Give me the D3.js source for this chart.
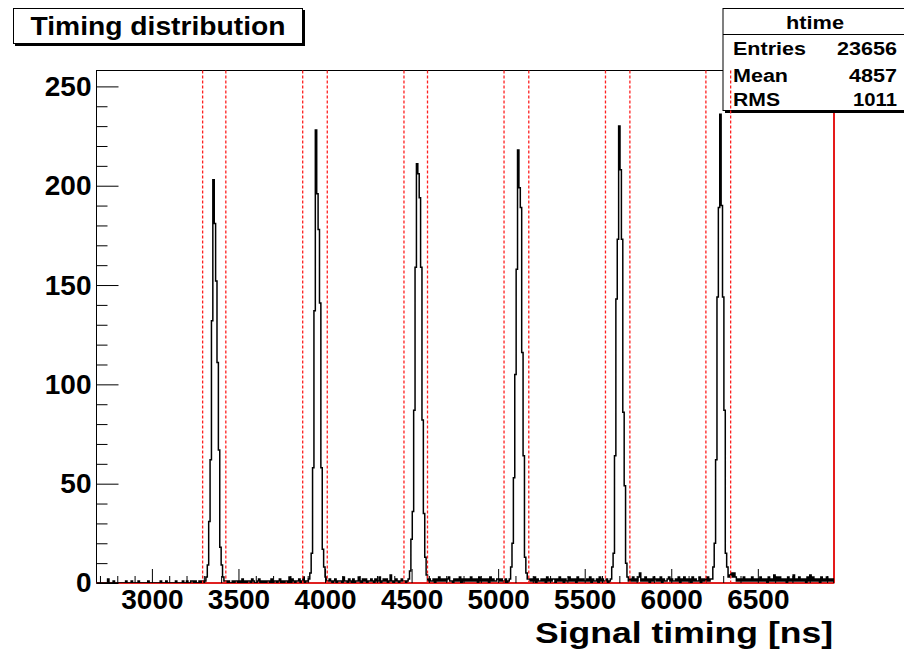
<!DOCTYPE html>
<html><head><meta charset="utf-8">
<script src="https://cdn.jsdelivr.net/npm/d3@7"></script>
<style>
body{margin:0;background:#fff;}
svg{display:block;font-family:"Liberation Sans",Arial,Helvetica,sans-serif;font-weight:bold;}
</style>
</head><body><svg id="c" width="904" height="649"></svg>
<script>
// ---------------- data ----------------
const binStart = 2680, binWidth = 8;
const xDomain = [2680, 6940];
const yDomain = [0, 258];
// background counts per bin (one digit = one bin), segments between the peaks
const noiseSegments = [
  "000000002000100000000100010000100000010000000010001000000100001001001101001010",
  "101001011010201011021001201010110201101201011030210112013011",
  "1210120111031102102011310212011210211301212014101210121101",
  "2112021312121231102121302121213121203121212031211221210201",
  "21213021121203121220213120211312120312121121302112031211201",
  "21312135121312021321213021123121121302131212031211302121312",
  "4535312121312121312121312120312141313121203121412131212031413121203121312121"
];
// peak bin counts (6 timing peaks)
const peaks = [
  [1, 3, 9, 31, 62, 132, 203, 181, 152, 111, 67, 18, 9, 3, 1],
  [2, 5, 15, 58, 137, 228, 196, 178, 141, 58, 17, 8, 3, 1],
  [2, 6, 22, 36, 87, 159, 211, 206, 194, 159, 82, 35, 13, 4, 1],
  [2, 8, 20, 53, 105, 158, 218, 199, 189, 116, 64, 13, 5, 2],
  [2, 8, 15, 64, 143, 173, 230, 208, 173, 86, 49, 10, 3, 1],
  [2, 8, 20, 62, 144, 189, 236, 190, 144, 87, 15, 8, 3]
];
const cutLines = [3293, 3427, 3871, 4013, 4456, 4592, 5034, 5177, 5620, 5761, 6200, 6343];
const xTicks = [3000, 3500, 4000, 4500, 5000, 5500, 6000, 6500];
const xMinorTicks = [2700,2800,2900,3100,3200,3300,3400,3600,3700,3800,3900,4100,4200,4300,4400,4600,4700,4800,4900,5100,5200,5300,5400,5600,5700,5800,5900,6100,6200,6300,6400,6600,6700,6800,6900];
const yTicks = [0, 50, 100, 150, 200, 250];
const yMinorTicks = [10,20,30,40,60,70,80,90,110,120,130,140,160,170,180,190,210,220,230,240];
const titleText = "Timing distribution";
const histName = "htime";
const statsLabels = ["Entries", "Mean", "RMS"];
const statsValues = ["23656", "4857", "1011"];
const xTitle = "Signal timing [ns]";

// ---------------- build bins ----------------
const counts = [];
noiseSegments.forEach((s, i) => {
  for (const ch of s) counts.push(+ch);
  if (i < peaks.length) peaks[i].forEach(v => counts.push(v));
});

// ---------------- layout ----------------
const svg = d3.select("#c");
const L = 96.5, R = 834, T = 70.5, B = 583;
const x = d3.scaleLinear().domain(xDomain).range([L, R]);
const y = d3.scaleLinear().domain(yDomain).range([B, T]);

svg.append("defs").append("clipPath").attr("id", "clip")
  .append("rect").attr("x", L).attr("y", T).attr("width", R - L).attr("height", B - T);

// frame
svg.append("rect").attr("x", L).attr("y", T).attr("width", R - L).attr("height", B - T)
  .attr("fill", "none").attr("stroke", "#000").attr("stroke-width", 1);

// red baseline & right edge
svg.append("line").attr("x1", L).attr("x2", R).attr("y1", y(0)).attr("y2", y(0))
  .attr("stroke", "#ff0000").attr("stroke-width", 1.6);
svg.append("line").attr("x1", R).attr("x2", R).attr("y1", T).attr("y2", B)
  .attr("stroke", "#ff0000").attr("stroke-width", 1.6);

// histogram step line
let d = `M${x(binStart)},${y(0)}`;
counts.forEach((c, i) => {
  const e1 = binStart + (i + 1) * binWidth;
  d += `V${y(c)}H${x(Math.min(e1, xDomain[1]))}`;
});
d += `V${y(0)}`;
svg.append("path").attr("d", d).attr("fill", "none").attr("stroke", "#000")
  .attr("stroke-width", 1.5).attr("stroke-linejoin", "miter").attr("clip-path", "url(#clip)");

// axes
const gx = svg.append("g").attr("transform", `translate(0,${B})`)
  .call(d3.axisBottom(x).tickValues(xTicks).tickSize(-14).tickPadding(6.5).tickFormat(d3.format("d")));
const gxm = svg.append("g").attr("transform", `translate(0,${B})`)
  .call(d3.axisBottom(x).tickValues(xMinorTicks).tickSize(-7).tickFormat(""));
const gy = svg.append("g").attr("transform", `translate(${L},0)`)
  .call(d3.axisLeft(y).tickValues(yTicks).tickSize(-22).tickPadding(5).tickFormat(d3.format("d")));
const gym = svg.append("g").attr("transform", `translate(${L},0)`)
  .call(d3.axisLeft(y).tickValues(yMinorTicks).tickSize(-11).tickFormat(""));
[gxm, gym].forEach(g => g.selectAll("text").remove());
[gx, gxm, gy, gym].forEach(g => {
  g.select(".domain").remove();
  g.selectAll("line").attr("stroke", "#000").attr("stroke-width", 1);
  g.selectAll("text").attr("fill", "#000").style("font-size", "28px")
    .style("font-family", '"Liberation Sans",Arial,sans-serif').style("font-weight", "bold");
});

// axis title
svg.append("text").attr("x", 833).attr("y", 642.5).attr("text-anchor", "end")
  .attr("textLength", 298).attr("lengthAdjust", "spacingAndGlyphs")
  .style("font-size", "29.5px").text(xTitle);

// stats box
const sb = svg.append("g");
sb.append("rect").attr("x", 725).attr("y", 10).attr("width", 184).attr("height", 103).attr("fill", "#000");
sb.append("rect").attr("x", 723).attr("y", 8.5).attr("width", 184).attr("height", 102)
  .attr("fill", "#fff").attr("stroke", "#000").attr("stroke-width", 1);
sb.append("line").attr("x1", 723).attr("x2", 907).attr("y1", 34.5).attr("y2", 34.5)
  .attr("stroke", "#000").attr("stroke-width", 1);
sb.append("text").attr("x", 815).attr("y", 29).attr("text-anchor", "middle")
  .attr("textLength", 58).attr("lengthAdjust", "spacingAndGlyphs")
  .style("font-size", "19px").text(histName);
const rowY = [55, 81.5, 106];
const labLen = [73, 55, 47];
const valLen = [60, 48, 44];
statsLabels.forEach((t, i) => {
  sb.append("text").attr("x", 733).attr("y", rowY[i])
    .attr("textLength", labLen[i]).attr("lengthAdjust", "spacingAndGlyphs")
    .style("font-size", "18px").text(t);
  sb.append("text").attr("x", 897).attr("y", rowY[i]).attr("text-anchor", "end")
    .attr("textLength", valLen[i]).attr("lengthAdjust", "spacingAndGlyphs")
    .style("font-size", "18px").text(statsValues[i]);
});

// red dashed cut lines
svg.selectAll(".cut").data(cutLines).enter().append("line").attr("class", "cut")
  .attr("x1", v => x(v)).attr("x2", v => x(v))
  .attr("y1", T).attr("y2", B)
  .attr("stroke", "#ff2020").attr("stroke-width", 1.3).attr("stroke-dasharray", "3,2");

// title box
const tb = svg.append("g");
tb.append("rect").attr("x", 15).attr("y", 10).attr("width", 290).attr("height", 36).attr("fill", "#000");
tb.append("rect").attr("x", 13.5).attr("y", 8.5).attr("width", 289).attr("height", 35)
  .attr("fill", "#fff").attr("stroke", "#000").attr("stroke-width", 1);
tb.append("text").attr("x", 158).attr("y", 35).attr("text-anchor", "middle")
  .attr("textLength", 255).attr("lengthAdjust", "spacingAndGlyphs")
  .style("font-size", "25px").text(titleText);
</script>
</body></html>
